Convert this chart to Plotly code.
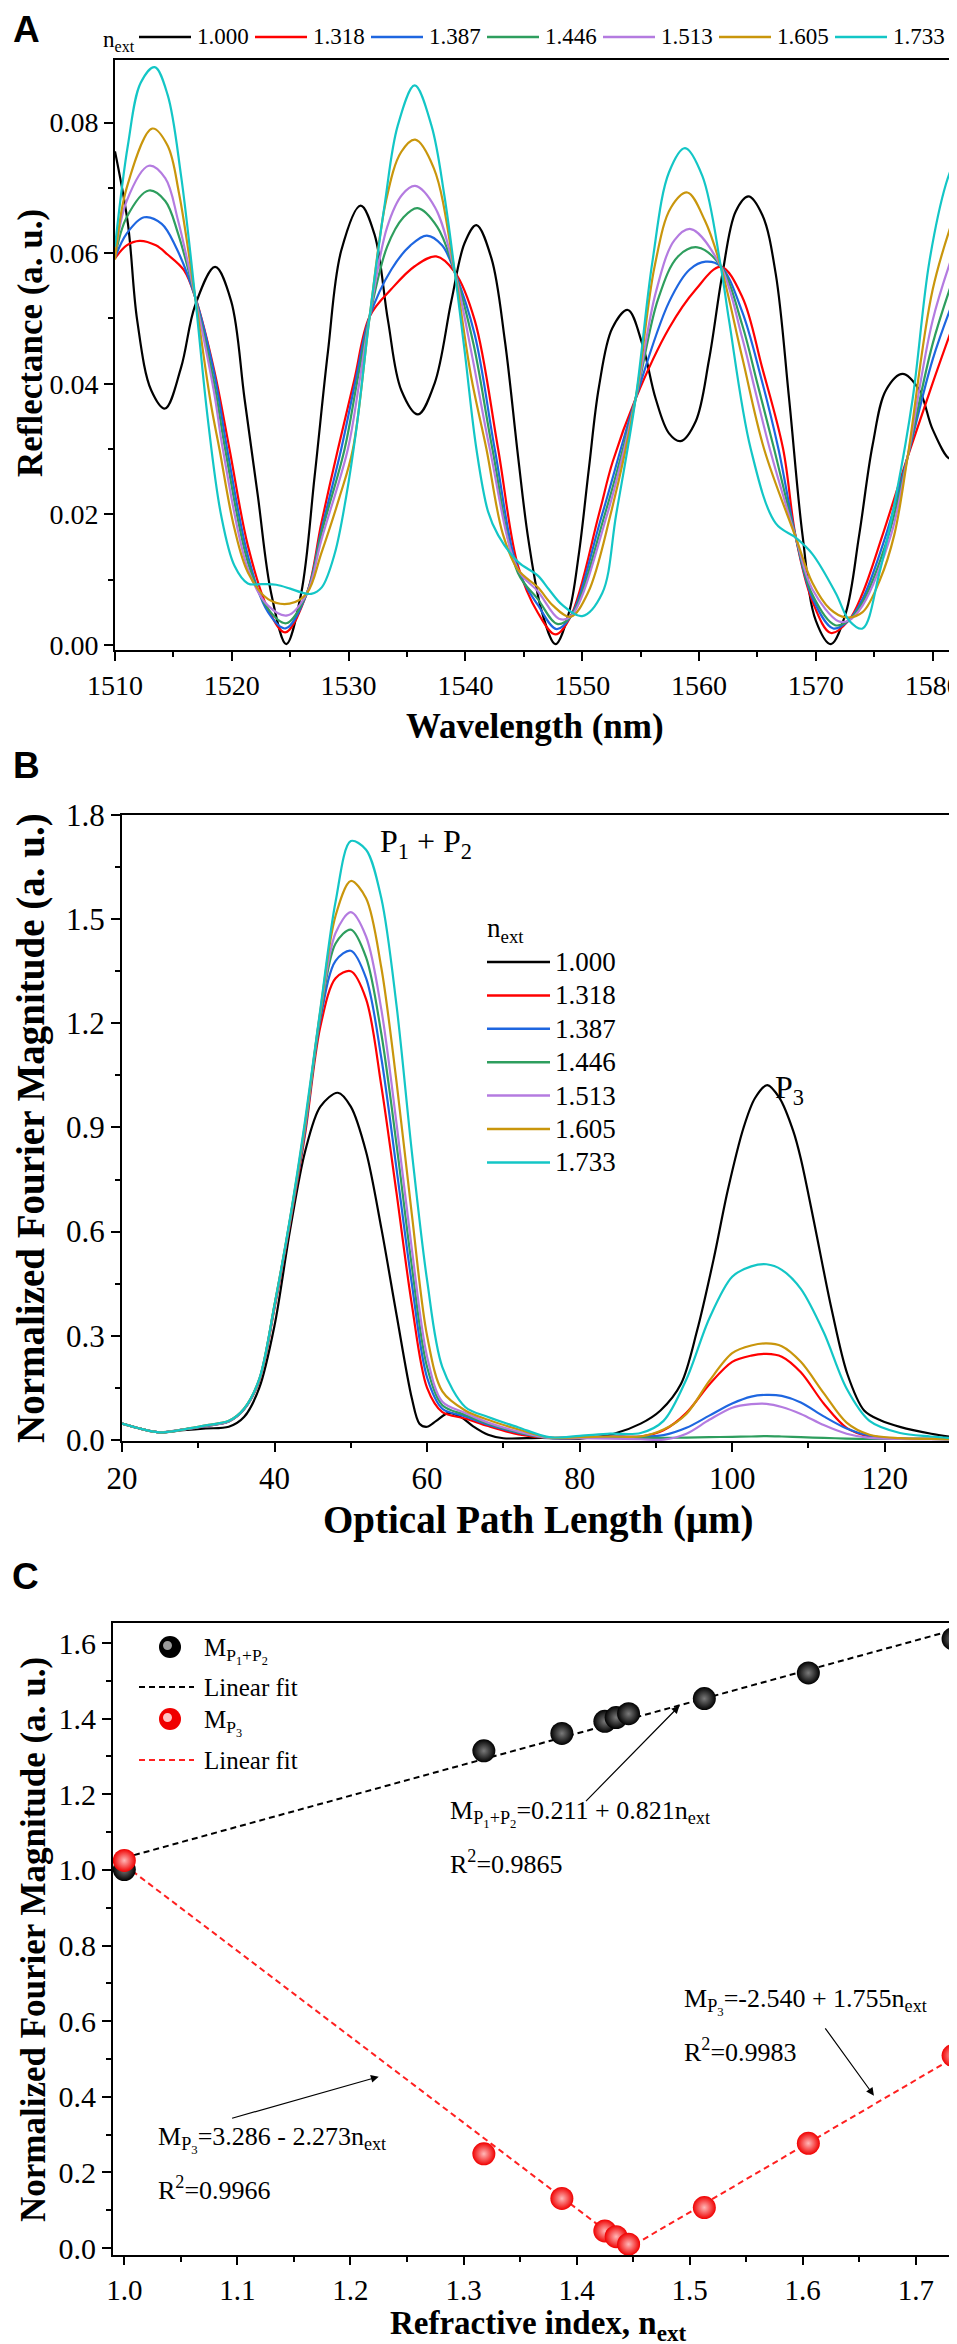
import plotly.graph_objects as go

SERIF = "Liberation Serif, Times New Roman, serif"
SANS = "Liberation Sans, Arial, sans-serif"

n_ext = ["1.000", "1.318", "1.387", "1.446", "1.513", "1.605", "1.733"]
colors = ["#000000", "#FF0000", "#1E66E0", "#2E9E5E", "#B47BE0", "#C9960C", "#13C6C6"]

# ---- panel A: reflectance spectra ----
a_wl_1000 = [1510, 1511.1, 1511.9, 1513.1, 1514.29, 1515.66, 1516.86, 1518.57, 1519.94, 1521.09, 1522.23, 1523.37,
             1524.66, 1525.94, 1527.09, 1528.23, 1529.37, 1531.03, 1532.23, 1533.37, 1534.51, 1535.94, 1537.37, 1538.8,
             1539.94, 1540.94, 1542.23, 1543.37, 1544.51, 1545.4, 1546.57, 1547.71, 1548.86, 1549.71, 1550.57, 1551.43,
             1552.57, 1553.91, 1555.14, 1556.29, 1557.43, 1558.43, 1559.71, 1560.86, 1562.0, 1563.14, 1564.23, 1565.43,
             1566.57, 1567.71, 1568.86, 1570.0, 1571.29, 1572.57, 1573.71, 1574.86, 1576.0, 1577.43, 1578.86, 1580.0,
             1581.49, 1582.14]
a_r_1000 = [0.0756, 0.0646, 0.0497, 0.0390, 0.0362, 0.0425, 0.0520, 0.0579, 0.0527, 0.0377, 0.0228, 0.0079,
            0.0001, 0.0079, 0.0258, 0.0449, 0.0604, 0.0673, 0.0628, 0.0497, 0.0390, 0.0353, 0.0401, 0.0527,
            0.0616, 0.0643, 0.0592, 0.0467, 0.0288, 0.0160, 0.0049, 0.0001, 0.0049, 0.0139, 0.0270, 0.0395,
            0.0485, 0.0513, 0.0461, 0.0377, 0.0324, 0.0312, 0.0342, 0.0437, 0.0568, 0.0664, 0.0687, 0.0658,
            0.0568, 0.0377, 0.0168, 0.0037, 0.0001, 0.0049, 0.0168, 0.0306, 0.0390, 0.0415, 0.0390, 0.0330,
            0.0285, 0.0294]

a_wl_1318 = [1510, 1511, 1512.1, 1513.5, 1514.5, 1515.9, 1516.86, 1518.5, 1519.8, 1521.4, 1523.1, 1524.57, 1526.43,
             1527.66, 1529.09, 1530.5, 1531.8, 1533.66, 1535.66, 1537.5, 1539.09, 1540.8, 1542.8, 1544.5, 1546.2,
             1547.7, 1549.0, 1551.43, 1552.6, 1554.57, 1557.43, 1559.7, 1561.86, 1563.7, 1565.4, 1567.2, 1568.29,
             1569.7, 1571.29, 1572.8, 1574.0, 1575.71, 1577.86, 1580.0, 1582.14]
a_r_1318 = [0.0592, 0.0612, 0.0619, 0.0612, 0.0598, 0.0574, 0.0533, 0.0420, 0.0300, 0.0150, 0.0055, 0.0019, 0.0079,
            0.0186, 0.0300, 0.0407, 0.0503, 0.0545, 0.0580, 0.0595, 0.0571, 0.0497, 0.0300, 0.0121, 0.0049,
            0.0016, 0.0043, 0.0200, 0.0280, 0.0377, 0.0485, 0.0544, 0.0579, 0.0533, 0.0425, 0.0300, 0.0164,
            0.0067, 0.0018, 0.0037, 0.0079, 0.0168, 0.0288, 0.0401, 0.0509]

a_wl_1387 = [1510, 1511, 1512.5, 1514.0, 1515.2, 1516.86, 1518.5, 1519.6, 1521.4, 1523.1, 1524.6, 1526.43, 1527.66,
             1529.37, 1530.6, 1531.8, 1533.66, 1535.3, 1536.7, 1538.0, 1539.09, 1540.8, 1542.51, 1544.5, 1546.2,
             1547.8, 1549.0, 1551.71, 1554.57, 1557.43, 1559.2, 1560.57, 1561.86, 1563.7, 1565.3, 1566.8, 1568.29,
             1569.7, 1571.49, 1572.8, 1574.0, 1576.0, 1577.86, 1580.0, 1582.14]
a_r_1387 = [0.0593, 0.0630, 0.0655, 0.0645, 0.0610, 0.0533, 0.0415, 0.0300, 0.0135, 0.0050, 0.0025, 0.0079, 0.0175,
            0.0300, 0.0405, 0.0503, 0.0575, 0.0612, 0.0627, 0.0612, 0.0571, 0.0475, 0.0300, 0.0115, 0.0061,
            0.0024, 0.0043, 0.0200, 0.0377, 0.0525, 0.0575, 0.0587, 0.0580, 0.0510, 0.0410, 0.0300, 0.0164,
            0.0072, 0.0025, 0.0037, 0.0070, 0.0168, 0.0288, 0.0437, 0.0544]

a_wl_1446 = [1510, 1511, 1512.9, 1514.3, 1515.4, 1516.86, 1518.5, 1519.43, 1521.4, 1523.1, 1524.66, 1526.43, 1527.66,
             1529.66, 1530.7, 1531.8, 1533.3, 1534.7, 1535.9, 1537.6, 1539.09, 1540.7, 1542.31, 1544.5, 1546.2,
             1547.85, 1549.0, 1551.94, 1554.57, 1556.5, 1558.2, 1559.86, 1561.86, 1563.7, 1565.0, 1566.43, 1568.29,
             1569.7, 1571.66, 1572.8, 1574.0, 1576.23, 1577.86, 1580.0, 1582.14]
a_r_1446 = [0.0594, 0.0655, 0.0696, 0.0680, 0.0630, 0.0533, 0.0400, 0.0300, 0.0125, 0.0055, 0.0033, 0.0079, 0.0170,
            0.0300, 0.0400, 0.0503, 0.0610, 0.0655, 0.0669, 0.0640, 0.0571, 0.0460, 0.0300, 0.0110, 0.0070,
            0.0032, 0.0043, 0.0200, 0.0377, 0.0530, 0.0595, 0.0609, 0.0580, 0.0490, 0.0400, 0.0300, 0.0164,
            0.0077, 0.0030, 0.0037, 0.0065, 0.0168, 0.0288, 0.0461, 0.0580]

a_wl_1513 = [1510, 1511, 1512.9, 1514.3, 1515.4, 1516.86, 1518.5, 1519.23, 1521.4, 1523.1, 1524.75, 1526.43, 1527.66,
             1529.94, 1530.9, 1531.8, 1533.3, 1534.6, 1535.7, 1537.4, 1539.09, 1540.6, 1542.09, 1544.5, 1546.2,
             1548.0, 1549.0, 1552.14, 1554.57, 1556.3, 1557.9, 1559.29, 1561.86, 1563.7, 1564.8, 1566.06, 1568.29,
             1569.7, 1571.94, 1572.8, 1574.0, 1576.43, 1577.86, 1580.0, 1582.14]
a_r_1513 = [0.0594, 0.0680, 0.0734, 0.0715, 0.0650, 0.0533, 0.0385, 0.0300, 0.0115, 0.0060, 0.0045, 0.0079, 0.0160,
            0.0300, 0.0400, 0.0503, 0.0640, 0.0690, 0.0703, 0.0670, 0.0571, 0.0440, 0.0300, 0.0115, 0.0082,
            0.0040, 0.0043, 0.0200, 0.0377, 0.0540, 0.0620, 0.0637, 0.0580, 0.0470, 0.0390, 0.0300, 0.0164,
            0.0085, 0.0036, 0.0037, 0.0060, 0.0168, 0.0288, 0.0497, 0.0619]

a_wl_1605 = [1510, 1511, 1513.2, 1514.5, 1515.5, 1516.86, 1518.2, 1518.94, 1520.2, 1521.4, 1523.1, 1524.94, 1526.43,
             1527.66, 1529.2, 1530.37, 1531.8, 1533.2, 1534.5, 1535.7, 1537.3, 1539.09, 1540.5, 1541.8, 1543.2,
             1544.5, 1546.2, 1547.5, 1549.0, 1550.5, 1552.43, 1554.57, 1556.2, 1557.6, 1559.0, 1560.5, 1561.86,
             1563.7, 1565.57, 1568.29, 1569.7, 1571.2, 1572.57, 1574.0, 1575.5, 1576.71, 1577.86, 1580.0, 1582.14]
a_r_1605 = [0.0590, 0.0700, 0.0791, 0.0765, 0.0690, 0.0533, 0.0370, 0.0300, 0.0180, 0.0110, 0.0070, 0.0063, 0.0079,
            0.0140, 0.0225, 0.0300, 0.0503, 0.0680, 0.0755, 0.0774, 0.0730, 0.0571, 0.0410, 0.0300, 0.0170,
            0.0115, 0.0088, 0.0060, 0.0043, 0.0080, 0.0200, 0.0377, 0.0580, 0.0670, 0.0693, 0.0650, 0.0580,
            0.0440, 0.0300, 0.0164, 0.0095, 0.0055, 0.0042, 0.0050, 0.0100, 0.0168, 0.0288, 0.0544, 0.0673]

a_wl_1733 = [1510, 1511.1, 1512.2, 1513.4, 1514.5, 1515.66, 1516.86, 1517.94, 1519.09, 1520.23, 1521.37, 1522.6,
             1523.8, 1525.0, 1526.0, 1526.8, 1527.7, 1528.8, 1529.8, 1530.66, 1531.8, 1533.1, 1534.2, 1535.66,
             1537.1, 1538.2, 1539.09, 1539.94, 1540.94, 1541.94, 1542.8, 1544.5, 1546.2, 1547.14, 1548.29, 1550.0,
             1551.71, 1552.91, 1554.57, 1556.0, 1557.43, 1558.8, 1560.29, 1561.86, 1562.57, 1564.43, 1566.57,
             1568.29, 1569.71, 1571.71, 1572.86, 1574.0, 1575.43, 1576.86, 1578.29, 1579.71, 1581.14, 1582.14]
a_r_1733 = [0.0610, 0.0765, 0.0861, 0.0885, 0.0843, 0.0718, 0.0533, 0.0347, 0.0198, 0.0121, 0.0094, 0.0093,
            0.0092, 0.0086, 0.0080, 0.0078, 0.0088, 0.0139, 0.0228, 0.0330, 0.0503, 0.0676, 0.0795, 0.0857,
            0.0795, 0.0688, 0.0571, 0.0449, 0.0300, 0.0204, 0.0168, 0.0127, 0.0106, 0.0085, 0.0061, 0.0044,
            0.0079, 0.0200, 0.0377, 0.0586, 0.0724, 0.0761, 0.0718, 0.0580, 0.0497, 0.0300, 0.0186,
            0.0164, 0.0139, 0.0079, 0.0037, 0.0025, 0.0109, 0.0228, 0.0377, 0.0586, 0.0706, 0.0753]

# ---- panel B: Fourier spectra ----
b_opl_1000 = [20, 22.5, 25, 28, 31, 34, 36, 38, 40, 42, 44, 46, 48.3, 50, 52, 54, 56, 58, 59, 60, 61.2, 62.8, 64.5,
              66, 68, 70, 75, 80, 84.5, 88, 90.6, 93.3, 95.4, 97.6, 99.4, 101.5, 103, 104.6, 106.2, 108, 109,
              110.8, 113, 115.1, 117.3, 119.5, 122.1, 126.1, 130]
b_m_1000 = [0.047, 0.032, 0.022, 0.028, 0.033, 0.038, 0.066, 0.150, 0.330, 0.600, 0.830, 0.960, 1.000, 0.960, 0.830,
            0.610, 0.360, 0.120, 0.047, 0.038, 0.055, 0.078, 0.065, 0.040, 0.015, 0.005, 0.006, 0.004, 0.018,
            0.047, 0.085, 0.162, 0.315, 0.524, 0.717, 0.900, 0.985, 1.022, 0.985, 0.890, 0.810, 0.620, 0.380,
            0.190, 0.085, 0.056, 0.037, 0.018, 0.004]

b_opl = [20, 22.5, 25, 28, 31, 34, 36, 38, 40, 42, 44, 46, 48, 50, 52, 54, 56, 58, 60, 62, 65, 68, 72, 76, 80, 84,
         88, 91, 94, 97, 100, 102.5, 104.5, 106.5, 109, 112, 115, 118, 122, 126, 130]
b_m_1318 = [0.047, 0.032, 0.022, 0.030, 0.040, 0.053, 0.088, 0.170, 0.380, 0.620, 0.880, 1.190, 1.330, 1.350, 1.270,
            1.020, 0.710, 0.390, 0.150, 0.080, 0.062, 0.040, 0.016, 0.006, 0.008, 0.010, 0.010, 0.028, 0.078,
            0.160, 0.225, 0.243, 0.248, 0.240, 0.195, 0.105, 0.035, 0.010, 0.004, 0.003, 0.002]
b_m_1387 = [0.047, 0.032, 0.022, 0.030, 0.040, 0.053, 0.088, 0.172, 0.385, 0.625, 0.890, 1.210, 1.380, 1.409, 1.330,
            1.100, 0.780, 0.450, 0.180, 0.090, 0.068, 0.044, 0.020, 0.006, 0.008, 0.010, 0.009, 0.014, 0.035,
            0.070, 0.105, 0.125, 0.130, 0.127, 0.108, 0.068, 0.033, 0.012, 0.004, 0.003, 0.002]
b_m_1446 = [0.047, 0.032, 0.022, 0.030, 0.041, 0.054, 0.089, 0.173, 0.387, 0.628, 0.900, 1.220, 1.430, 1.470, 1.390,
            1.170, 0.850, 0.500, 0.210, 0.100, 0.072, 0.047, 0.022, 0.006, 0.007, 0.008, 0.006, 0.006, 0.007,
            0.008, 0.009, 0.010, 0.011, 0.010, 0.008, 0.006, 0.004, 0.003, 0.003, 0.003, 0.002]
b_m_1513 = [0.047, 0.032, 0.022, 0.030, 0.041, 0.054, 0.089, 0.174, 0.388, 0.630, 0.905, 1.230, 1.460, 1.520, 1.450,
            1.240, 0.910, 0.550, 0.240, 0.110, 0.078, 0.050, 0.024, 0.006, 0.005, 0.004, 0.002, 0.001, 0.018,
            0.058, 0.093, 0.103, 0.104, 0.095, 0.075, 0.043, 0.018, 0.006, 0.003, 0.002, 0.002]
b_m_1605 = [0.047, 0.032, 0.022, 0.030, 0.042, 0.055, 0.090, 0.175, 0.390, 0.632, 0.910, 1.235, 1.510, 1.610, 1.560,
            1.360, 1.030, 0.650, 0.300, 0.140, 0.085, 0.058, 0.030, 0.007, 0.008, 0.010, 0.010, 0.030, 0.075,
            0.170, 0.250, 0.272, 0.278, 0.270, 0.225, 0.135, 0.050, 0.015, 0.005, 0.003, 0.002]
b_m_1733 = [0.047, 0.032, 0.022, 0.030, 0.042, 0.055, 0.090, 0.176, 0.390, 0.635, 0.920, 1.240, 1.550, 1.725, 1.700,
            1.560, 1.250, 0.830, 0.460, 0.210, 0.095, 0.066, 0.036, 0.008, 0.012, 0.018, 0.020, 0.055, 0.175,
            0.350, 0.470, 0.500, 0.506, 0.490, 0.435, 0.310, 0.148, 0.055, 0.020, 0.010, 0.004]

# ---- panel C: peak magnitudes vs refractive index ----
c_n = [1.000, 1.318, 1.387, 1.425, 1.435, 1.446, 1.513, 1.605, 1.733]
c_m_p12 = [1.001, 1.315, 1.361, 1.393, 1.403, 1.413, 1.453, 1.521, 1.611]
c_m_p3 = [1.025, 0.249, 0.131, 0.045, 0.030, 0.010, 0.107, 0.277, 0.509]
fit_p12_n = [1.000, 1.733]
fit_p12_m = [1.032, 1.634]
fit_p3_n = [1.000, 1.446, 1.733]
fit_p3_m = [1.013, 0.000, 0.502]

W, H = 957, 2344


def px(x):
    return x / W


def py(y):
    return 1 - y / H


fig = go.Figure()

a_data = [(a_wl_1000, a_r_1000), (a_wl_1318, a_r_1318), (a_wl_1387, a_r_1387), (a_wl_1446, a_r_1446),
          (a_wl_1513, a_r_1513), (a_wl_1605, a_r_1605), (a_wl_1733, a_r_1733)]
for (wl, r), name, c in zip(a_data, n_ext, colors):
    fig.add_trace(go.Scatter(x=wl, y=r, mode="lines", name=name,
                             line=dict(color=c, width=2.2, shape="spline", smoothing=1.0),
                             xaxis="x", yaxis="y"))

b_data = [(b_opl_1000, b_m_1000), (b_opl, b_m_1318), (b_opl, b_m_1387), (b_opl, b_m_1446),
          (b_opl, b_m_1513), (b_opl, b_m_1605), (b_opl, b_m_1733)]
for (x, m), name, c in zip(b_data, n_ext, colors):
    fig.add_trace(go.Scatter(x=x, y=m, mode="lines", name=name,
                             line=dict(color=c, width=2.2, shape="spline", smoothing=0.9),
                             xaxis="x2", yaxis="y2"))

fig.add_trace(go.Scatter(x=fit_p12_n, y=fit_p12_m, mode="lines", name="Linear fit",
                         line=dict(color="black", width=2, dash="6px,4px"), xaxis="x3", yaxis="y3"))
fig.add_trace(go.Scatter(x=fit_p3_n, y=fit_p3_m, mode="lines", name="Linear fit",
                         line=dict(color="#FF2020", width=2, dash="6px,4px"), xaxis="x3", yaxis="y3"))
fig.add_trace(go.Scatter(x=c_n, y=c_m_p12, mode="markers", name="M P1+P2",
                         marker=dict(size=23, color="#000000", line=dict(width=0),
                                     gradient=dict(type="radial", color="#7a7a7a")),
                         xaxis="x3", yaxis="y3"))
fig.add_trace(go.Scatter(x=c_n, y=c_m_p3, mode="markers", name="M P3",
                         marker=dict(size=23, color="#F00000", line=dict(width=0),
                                     gradient=dict(type="radial", color="#FFB8B8")),
                         xaxis="x3", yaxis="y3"))


def ax(size, **kw):
    d = dict(showline=True, linecolor="black", linewidth=2, mirror=True, ticks="outside",
             ticklen=9, tickwidth=2, tickcolor="black", showgrid=False, zeroline=False,
             automargin=False, tickfont=dict(family=SERIF, size=size, color="black"))
    d.update(kw)
    return d


def minor(dt):
    return dict(ticks="outside", ticklen=5, tickwidth=2, tickcolor="black", dtick=dt, showgrid=False)


fig.update_layout(
    width=W, height=H, margin=dict(l=0, r=0, t=0, b=0, autoexpand=False),
    paper_bgcolor="white", plot_bgcolor="white", showlegend=False,
    xaxis=ax(28, domain=[px(107), px(948)], range=[1510, 1582], dtick=10, tick0=1510,
             minor=minor(5), anchor="y"),
    yaxis=ax(28, domain=[py(642), py(52)], range=[-0.0008, 0.0896], dtick=0.02, tick0=0,
             tickformat=".2f", minor=minor(0.01), anchor="x"),
    xaxis2=ax(31, domain=[px(114), px(953)], range=[20, 130], dtick=20, tick0=0,
              minor=minor(10), anchor="y2"),
    yaxis2=ax(31, domain=[py(1433), py(807)], range=[-0.003, 1.8], dtick=0.3, tick0=0,
              tickformat=".1f", minor=minor(0.15), anchor="x2"),
    xaxis3=ax(29, domain=[px(105), px(953)], range=[0.99, 1.74], dtick=0.1, tick0=1.0, ticklen=8,
              tickformat=".1f", minor=minor(0.05), anchor="y3"),
    yaxis3=ax(30, domain=[py(2247), py(1615)], range=[-0.0185, 1.653], dtick=0.2, tick0=0,
              tickformat=".1f", minor=minor(0.1), anchor="x3"),
)

ann_font = dict(family=SERIF, size=26, color="black")
title_a = dict(family=SERIF, size=35, color="black", weight="bold")
title_b = dict(family=SERIF, size=39, color="black", weight="bold")
letter = dict(family=SANS, size=37, color="black", weight="bold")

annotations = []
shapes = []


def text(t, x, y, font, anchor="center", angle=0, yanchor="middle"):
    annotations.append(dict(text=t, x=px(x), y=py(y), xref="paper", yref="paper", showarrow=False,
                            xanchor=anchor, yanchor=yanchor, textangle=angle, font=font, borderpad=0))


# panel letters
text("A", 18, 21, letter)
text("B", 18, 757, letter)
text("C", 17, 1568, letter)
# axis titles
text("Wavelength (nm)", 527, 718, title_a)
text("Reflectance (a. u.)", 22, 335, title_a, angle=-90)
text("Optical Path Length (\u03bcm)", 530, 1512, title_b)
text("Normalized Fourier Magnitude (a. u.)", 23, 1120, title_b, angle=-90)
text("Refractive index, n<sub>ext</sub>", 530, 2339, dict(title_a, size=33), yanchor="bottom")
text("Normalized Fourier Magnitude (a. u.)", 25, 1932, title_a, angle=-90)

# legend of panel A (one row above the plot)
leg_a = dict(family=SERIF, size=23, color="black")
text("n<sub>ext</sub>", 94, 33, leg_a, anchor="left")
for i, (name, c) in enumerate(zip(n_ext, colors)):
    x0 = 131 + 116 * i
    shapes.append(dict(type="line", xref="paper", yref="paper", x0=px(x0), x1=px(x0 + 52),
                       y0=py(29), y1=py(29), line=dict(color=c, width=2.5)))
    text(name, x0 + 57, 29, leg_a, anchor="left")

# legend of panel B (column to the right of P1 + P2)
leg_b = dict(family=SERIF, size=27, color="black")
text("n<sub>ext</sub>", 478, 922, leg_b, anchor="left")
for i, (name, c) in enumerate(zip(n_ext, colors)):
    yy = 954 + 33.4 * i
    shapes.append(dict(type="line", xref="paper", yref="paper", x0=px(479), x1=px(542),
                       y0=py(yy), y1=py(yy), line=dict(color=c, width=2.5)))
    text(name, 546, yy, leg_b, anchor="left")

# legend of panel C
leg_c = dict(family=SERIF, size=25, color="black")
for yy, base, hi in [(1639, "#000000", "#9a9a9a"), (1711, "#F00000", "#FFC4C4")]:
    shapes.append(dict(type="circle", xref="paper", yref="paper", x0=px(151), x1=px(173),
                       y0=py(yy + 11), y1=py(yy - 11), fillcolor=base, line=dict(width=0)))
    shapes.append(dict(type="circle", xref="paper", yref="paper", x0=px(155), x1=px(164),
                       y0=py(yy + 3), y1=py(yy - 6), fillcolor=hi, line=dict(width=0)))
for yy, c in [(1679, "black"), (1752, "#FF2020")]:
    shapes.append(dict(type="line", xref="paper", yref="paper", x0=px(131), x1=px(186),
                       y0=py(yy), y1=py(yy), line=dict(color=c, width=2, dash="6px,4px")))
text("M<sub>P<sub>1</sub>+P<sub>2</sub></sub>", 195, 1643, leg_c, anchor="left")
text("Linear fit", 195, 1679, leg_c, anchor="left")
text("M<sub>P<sub>3</sub></sub>", 195, 1715, leg_c, anchor="left")
text("Linear fit", 195, 1752, leg_c, anchor="left")

# peak labels in B
annotations += [
    dict(text="P<sub>1</sub> + P<sub>2</sub>", x=53.5, y=1.717, xref="x2", yref="y2", showarrow=False,
         xanchor="left", yanchor="middle", font=dict(family=SERIF, size=32, color="black")),
    dict(text="P<sub>3</sub>", x=105.4, y=1.01, xref="x2", yref="y2", showarrow=False,
         xanchor="left", yanchor="middle", font=dict(family=SERIF, size=32, color="black")),
]

# fit equations in C
eqs = [
    ("M<sub>P<sub>1</sub>+P<sub>2</sub></sub>=0.211 + 0.821n<sub>ext</sub>", 1.286, 1.148),
    ("R<sup>2</sup>=0.9865", 1.286, 1.019),
    ("M<sub>P<sub>3</sub></sub>=-2.540 + 1.755n<sub>ext</sub>", 1.493, 0.651),
    ("R<sup>2</sup>=0.9983", 1.493, 0.522),
    ("M<sub>P<sub>3</sub></sub>=3.286 - 2.273n<sub>ext</sub>", 1.028, 0.287),
    ("R<sup>2</sup>=0.9966", 1.028, 0.157),
]
for t, x, y in eqs:
    annotations.append(dict(text=t, x=x, y=y, xref="x3", yref="y3", showarrow=False,
                            xanchor="left", yanchor="middle", font=ann_font))

# arrows in C (head at x,y; tail at ax,ay)
for hx, hy, tx, ty in [(1.491, 1.434, 1.407, 1.178), (1.663, 0.403, 1.619, 0.585), (1.225, 0.453, 1.094, 0.342)]:
    annotations.append(dict(x=hx, y=hy, ax=tx, ay=ty, xref="x3", yref="y3", axref="x3", ayref="y3",
                            text="", showarrow=True, arrowhead=2, arrowsize=1.3, arrowwidth=1.2,
                            arrowcolor="black"))

fig.update_layout(annotations=annotations, shapes=shapes)

fig.write_html("out.html")
